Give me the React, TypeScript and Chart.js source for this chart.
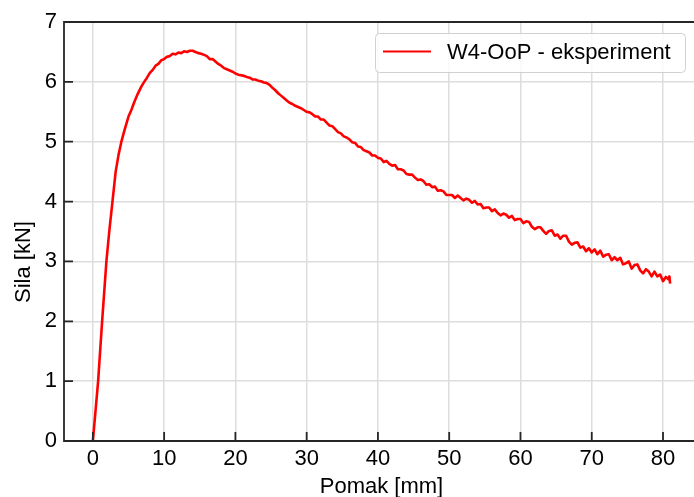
import React, { useEffect, useRef } from 'react';
import { Chart, registerables } from 'chart.js';

Chart.register(...registerables);

const displacement = [
  0, 0.74, 1.3, 1.9, 2.3, 2.75, 3.2, 3.6, 4.0, 4.5, 5.0, 5.4, 5.8, 6.3, 6.8, 7.2, 7.6, 8.0, 8.4, 8.8,
  9.2, 9.6, 10.0, 10.4, 10.8, 11.2, 11.6, 12.0, 12.4, 12.8, 13.2, 13.6,
  14.0, 14.4, 14.8, 15.2, 15.6, 16.0, 16.4, 16.8, 17.2, 17.6, 18.0, 18.4, 18.8, 19.2, 19.6, 20.0,
  20.4, 20.8, 21.2, 21.6, 22.0, 22.4, 22.8, 23.2, 23.6, 24.0, 24.4, 24.8, 25.2, 25.6, 26.0, 26.4,
  26.8, 27.2, 27.6, 28.0, 28.4, 28.8, 29.2, 29.6, 30.0,
  30.4, 30.8, 31.2, 31.6, 32.0, 32.4, 32.8, 33.2, 33.6, 34.0, 34.4, 34.8, 35.2, 35.6, 36.0, 36.4,
  36.8, 37.2, 37.6, 38.0, 38.4, 38.8, 39.2, 39.6, 40.0,
  40.4, 40.8, 41.2, 41.6, 42.0, 42.4, 42.8, 43.2, 43.6, 44.0, 44.4, 44.8, 45.2, 45.6, 46.0, 46.4,
  46.8, 47.2, 47.6, 48.0, 48.4, 48.8, 49.2, 49.6, 50.0,
  50.4, 50.8, 51.2, 51.6, 52.0, 52.4, 52.8, 53.2, 53.6, 54.0, 54.4, 54.8, 55.2, 55.6, 56.0, 56.4,
  56.8, 57.2, 57.6, 58.0, 58.4, 58.8, 59.2, 59.6, 60.0,
  60.4, 60.8, 61.2, 61.6, 62.0, 62.4, 62.8, 63.2, 63.6, 64.0, 64.4, 64.8, 65.2, 65.6, 66.0, 66.4,
  66.8, 67.2, 67.6, 68.0, 68.4, 68.8, 69.2, 69.6, 70.0,
  70.4, 70.8, 71.2, 71.6, 72.0, 72.4, 72.8, 73.2, 73.6, 74.0, 74.4, 74.8, 75.2, 75.6, 76.0, 76.4,
  76.8, 77.2, 77.6, 78.0, 78.4, 78.8, 79.2, 79.6, 80.0, 80.4, 80.8, 80.9, 81.0,
];

const force = [
  0, 1.0, 2.0, 3.0, 3.5, 4.0, 4.5, 4.78, 5.0, 5.22, 5.42, 5.53, 5.66, 5.80, 5.92, 6.00, 6.07, 6.15, 6.20, 6.27,
  6.30, 6.36, 6.38, 6.42, 6.43, 6.47, 6.46, 6.49, 6.48, 6.51, 6.50, 6.52,
  6.52, 6.50, 6.48, 6.47, 6.45, 6.43, 6.38, 6.38, 6.34, 6.30, 6.27, 6.23, 6.21, 6.19, 6.17, 6.14,
  6.12, 6.11, 6.10, 6.08, 6.07, 6.04, 6.04, 6.02, 6.01, 5.99, 5.98, 5.95, 5.90, 5.86, 5.81, 5.77,
  5.73, 5.69, 5.65, 5.63, 5.60, 5.58, 5.56, 5.53, 5.50,
  5.49, 5.46, 5.42, 5.42, 5.37, 5.37, 5.32, 5.27, 5.26, 5.21, 5.16, 5.14, 5.09, 5.07, 5.04, 4.99,
  4.98, 4.92, 4.91, 4.86, 4.84, 4.82, 4.77, 4.77, 4.73,
  4.72, 4.66, 4.68, 4.63, 4.60, 4.61, 4.54, 4.54, 4.52, 4.46, 4.45, 4.45, 4.40, 4.36, 4.37, 4.34,
  4.28, 4.29, 4.24, 4.25, 4.18, 4.19, 4.17, 4.11, 4.11,
  4.11, 4.06, 4.10, 4.06, 4.02, 4.05, 4.03, 3.98, 4.01, 3.95, 3.96, 3.89, 3.90, 3.90, 3.84, 3.87,
  3.81, 3.77, 3.80, 3.78, 3.73, 3.76, 3.69, 3.71, 3.71,
  3.64, 3.67, 3.66, 3.58, 3.54, 3.57, 3.57, 3.51, 3.46, 3.51, 3.52, 3.43, 3.45, 3.38, 3.43, 3.43,
  3.33, 3.28, 3.31, 3.32, 3.23, 3.25, 3.17, 3.22, 3.15,
  3.20, 3.12, 3.18, 3.08, 3.11, 3.12, 3.02, 3.07, 3.02, 3.06, 2.95, 2.97, 3.00, 2.88, 2.94, 2.95,
  2.85, 2.80, 2.87, 2.83, 2.75, 2.83, 2.75, 2.78, 2.67, 2.74, 2.70, 2.75, 2.63,
];

const xTicks = [0, 10, 20, 30, 40, 50, 60, 70, 80];
const yTicks = [0, 1, 2, 3, 4, 5, 6, 7];
const seriesLabel = 'W4-OoP - eksperiment';
const xTitle = 'Pomak [mm]';
const yTitle = 'Sila [kN]';

const FONT = '"Liberation Sans", Arial, Helvetica, sans-serif';
const FS = 22;

export default function App() {
  const ref = useRef<HTMLCanvasElement>(null);

  useEffect(() => {
    const canvas = ref.current;
    if (!canvas) return;

    const framePlugin = {
      id: 'framePlugin',
      afterDraw(chart: any) {
        const { ctx, chartArea: a, scales } = chart;
        const xs = scales.x;
        const ys = scales.y;
        ctx.save();
        // inward tick marks
        ctx.strokeStyle = '#262626';
        ctx.lineWidth = 1.8;
        ctx.beginPath();
        xTicks.forEach((v) => {
          const px = xs.getPixelForValue(v);
          ctx.moveTo(px, a.bottom);
          ctx.lineTo(px, a.bottom - 9);
        });
        yTicks.forEach((v) => {
          const py = ys.getPixelForValue(v);
          ctx.moveTo(a.left, py);
          ctx.lineTo(a.left + 9, py);
        });
        ctx.stroke();
        // frame (left, bottom, top)
        ctx.beginPath();
        ctx.moveTo(a.right + 2, a.top);
        ctx.lineTo(a.left, a.top);
        ctx.lineTo(a.left, a.bottom);
        ctx.lineTo(a.right + 2, a.bottom);
        ctx.stroke();

        // legend
        const bx = 375.5, by = 33.5, bw = 310, bh = 39, r = 4;
        ctx.beginPath();
        ctx.moveTo(bx + r, by);
        ctx.lineTo(bx + bw - r, by);
        ctx.arcTo(bx + bw, by, bx + bw, by + r, r);
        ctx.lineTo(bx + bw, by + bh - r);
        ctx.arcTo(bx + bw, by + bh, bx + bw - r, by + bh, r);
        ctx.lineTo(bx + r, by + bh);
        ctx.arcTo(bx, by + bh, bx, by + bh - r, r);
        ctx.lineTo(bx, by + r);
        ctx.arcTo(bx, by, bx + r, by, r);
        ctx.closePath();
        ctx.fillStyle = 'rgba(255,255,255,0.85)';
        ctx.fill();
        ctx.strokeStyle = '#d0d0d0';
        ctx.lineWidth = 1;
        ctx.stroke();
        ctx.strokeStyle = '#ff0000';
        ctx.lineWidth = 2;
        ctx.beginPath();
        ctx.moveTo(383, 51.5);
        ctx.lineTo(431, 51.5);
        ctx.stroke();
        ctx.fillStyle = '#000';
        ctx.font = `${FS}px ${FONT}`;
        ctx.textAlign = 'left';
        ctx.textBaseline = 'alphabetic';
        ctx.fillText(seriesLabel, 447, 59);

        // axis titles
        ctx.textAlign = 'center';
        ctx.fillText(xTitle, (a.left + a.right) / 2, 493);
        ctx.translate(30, 262);
        ctx.rotate(-Math.PI / 2);
        ctx.fillText(yTitle, 0, 0);
        ctx.restore();
      },
    };

    const chart = new Chart(canvas, {
      type: 'line',
      data: {
        datasets: [
          {
            label: seriesLabel,
            data: displacement.map((x, i) => ({ x, y: force[i] })),
            borderColor: '#ff0000',
            backgroundColor: '#ff0000',
            borderWidth: 2.6,
            pointRadius: 0,
            tension: 0,
            fill: false,
            borderJoinStyle: 'round',
          },
        ],
      },
      options: {
        responsive: false,
        animation: false,
        devicePixelRatio: 1,
        layout: { padding: { top: 22, right: 1, left: 0, bottom: 0 } },
        plugins: { legend: { display: false }, tooltip: { enabled: false } },
        scales: {
          x: {
            type: 'linear',
            min: -4.05,
            max: 85.05,
            afterFit(s: any) {
              s.height = 56;
            },
            afterBuildTicks(s: any) {
              s.ticks = xTicks.map((v) => ({ value: v }));
            },
            ticks: { padding: 5, color: '#000', font: { family: FONT, size: FS }, maxRotation: 0 },
            grid: { color: '#dddddd', lineWidth: 1.5, drawTicks: false },
            border: { display: false },
          },
          y: {
            type: 'linear',
            min: 0,
            max: 7,
            afterFit(s: any) {
              s.width = 64;
            },
            afterBuildTicks(s: any) {
              s.ticks = yTicks.map((v) => ({ value: v }));
            },
            ticks: { padding: 7, color: '#000', font: { family: FONT, size: FS } },
            grid: { color: '#dddddd', lineWidth: 1.5, drawTicks: false },
            border: { display: false },
          },
        },
      },
      plugins: [framePlugin],
    });

    return () => chart.destroy();
  }, []);

  return (
    <div
      style={{
        position: 'fixed',
        left: 0,
        top: 0,
        width: 694,
        height: 497,
        overflow: 'hidden',
        background: '#fff',
      }}
    >
      <canvas ref={ref} width={700} height={497} style={{ display: 'block' }} />
    </div>
  );
}
